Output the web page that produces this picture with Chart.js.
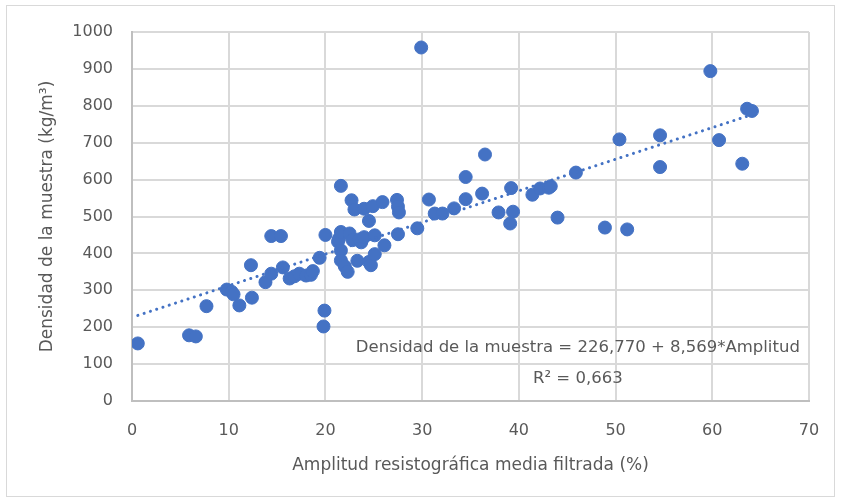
<!DOCTYPE html>
<html>
<head>
<meta charset="utf-8">
<script src="https://cdn.jsdelivr.net/npm/chart.js@4.4.1/dist/chart.umd.min.js"></script>
<style>
  html, body { margin: 0; padding: 0; background: #ffffff; }
  #wrap { position: relative; width: 841px; height: 501px; }
</style>
</head>
<body>
<div id="wrap"><canvas id="c"></canvas></div>
<script>
// ---- data ----
const amplitud = [
  0.6, 5.9, 6.6, 7.7, 9.8, 10.3, 10.5, 11.1, 12.3, 12.4,
  13.8, 14.4, 14.4, 15.4, 15.6, 16.3, 16.8, 17.3, 18.0, 18.5,
  18.7, 19.4, 19.8, 19.9, 20.0, 21.3, 21.4, 21.6, 21.6, 21.6,
  21.6, 22.0, 22.3, 22.5, 22.7, 22.8, 23.0, 23.3, 23.5, 23.7,
  24.0, 24.0, 24.5, 24.5, 24.7, 24.9, 25.1, 25.1, 25.9, 26.1,
  27.4, 27.5, 27.6, 27.5, 29.5, 29.9, 30.7, 31.3, 32.1, 33.3,
  34.5, 34.5, 36.2, 36.5, 37.9, 39.2, 39.4, 39.1, 41.4, 42.2,
  43.1, 43.3, 44.0, 45.9, 48.9, 50.4, 51.2, 54.6, 54.6, 59.8,
  60.7, 63.1, 63.6, 64.1
];
const densidad = [
  156, 178, 175, 257, 302, 296, 289, 259, 368, 280,
  322, 345, 447, 447, 362, 332, 338, 345, 340, 342,
  352, 388, 202, 245, 450, 432, 440, 583, 458, 408,
  381, 365, 350, 454, 544, 436, 519, 380, 438, 430,
  521, 444, 488, 377, 368, 528, 449, 398, 539, 422,
  545, 527, 511, 452, 468, 958, 546, 508, 508, 522,
  607, 547, 562, 668, 511, 577, 513, 481, 559, 576,
  578, 582, 497, 619, 470, 709, 465, 720, 634, 894,
  707, 643, 792, 786
];
const xTickValues = [0, 10, 20, 30, 40, 50, 60, 70];
const yTickValues = [0, 100, 200, 300, 400, 500, 600, 700, 800, 900, 1000];
const xTitle = 'Amplitud resistográfica media filtrada (%)';
const yTitle = 'Densidad de la muestra (kg/m³)';
const trendIntercept = 226.770;
const trendSlope = 8.569;
const equationLines = ['Densidad de la muestra = 226,770 + 8,569*Amplitud', 'R² = 0,663'];

// ---- build ----
const points = amplitud.map((x, i) => ({ x: x, y: densidad[i] }));
const xMin = Math.min(...amplitud), xMax = Math.max(...amplitud);
const trend = [
  { x: xMin, y: trendIntercept + trendSlope * xMin },
  { x: xMax, y: trendIntercept + trendSlope * xMax }
];

const BLUE = '#4472C4';
const TEXT = '#595959';
const FONT = 'DejaVu Sans';

const frame = {
  id: 'frame',
  beforeDraw(chart) {
    const ctx = chart.ctx;
    ctx.save();
    ctx.fillStyle = '#ffffff';
    ctx.fillRect(0, 0, chart.width, chart.height);
    ctx.strokeStyle = '#d9d9d9';
    ctx.lineWidth = 1;
    ctx.strokeRect(6.5, 5.5, 828, 491);
    ctx.restore();
  },
  afterDatasetsDraw(chart) {
    const ctx = chart.ctx;
    const xs = chart.scales.x, ys = chart.scales.y;
    ctx.save();
    ctx.fillStyle = TEXT;
    ctx.font = '16.5px "' + FONT + '"';
    ctx.textAlign = 'center';
    ctx.textBaseline = 'middle';
    const cx = xs.getPixelForValue(46.1);
    ctx.fillText(equationLines[0], cx, ys.getPixelForValue(145));
    ctx.fillText(equationLines[1], cx, ys.getPixelForValue(60));
    ctx.restore();
  }
};

new Chart(document.getElementById('c'), {
  type: 'scatter',
  data: {
    datasets: [
      {
        label: 'trend',
        type: 'line',
        data: trend,
        borderColor: BLUE,
        borderWidth: 3,
        borderDash: [0.1, 6.5],
        borderCapStyle: 'round',
        pointRadius: 0,
        fill: false,
        order: 0
      },
      {
        label: 'Densidad',
        data: points,
        backgroundColor: BLUE,
        borderColor: BLUE,
        pointRadius: 6.5,
        pointHoverRadius: 6.5,
        order: 1
      }
    ]
  },
  options: {
    responsive: true,
    maintainAspectRatio: false,
    devicePixelRatio: 1,
    animation: false,
    events: [],
    layout: { padding: { left: 0, right: 32, top: 32, bottom: 0 } },
    plugins: { legend: { display: false }, tooltip: { enabled: false } },
    scales: {
      x: {
        type: 'linear',
        min: 0, max: 70,
        afterBuildTicks(s) { s.ticks = xTickValues.map(v => ({ value: v })); },
        afterFit(s) { s.height = 100; },
        grid: { color: '#d9d9d9', lineWidth: 2, drawTicks: false },
        border: { color: '#bfbfbf', width: 2 },
        ticks: {
          color: TEXT, font: { family: FONT, size: 16 }, padding: 20,
          maxRotation: 0, callback: v => String(v)
        },
        title: {
          display: true, text: xTitle, color: TEXT,
          font: { family: FONT, size: 17 }, padding: { top: 0, bottom: 25 }
        }
      },
      y: {
        type: 'linear',
        min: 0, max: 1000,
        afterBuildTicks(s) { s.ticks = yTickValues.map(v => ({ value: v })); },
        afterFit(s) { s.width = 132; },
        grid: { color: '#d9d9d9', lineWidth: 2, drawTicks: false },
        border: { color: '#bfbfbf', width: 2 },
        ticks: {
          color: TEXT, font: { family: FONT, size: 16 }, padding: 19,
          callback: v => String(v)
        },
        title: {
          display: true, text: yTitle, color: TEXT,
          font: { family: FONT, size: 17 }, padding: { top: 37, bottom: 0 }
        }
      }
    }
  },
  plugins: [frame]
});
</script>
</body>
</html>
